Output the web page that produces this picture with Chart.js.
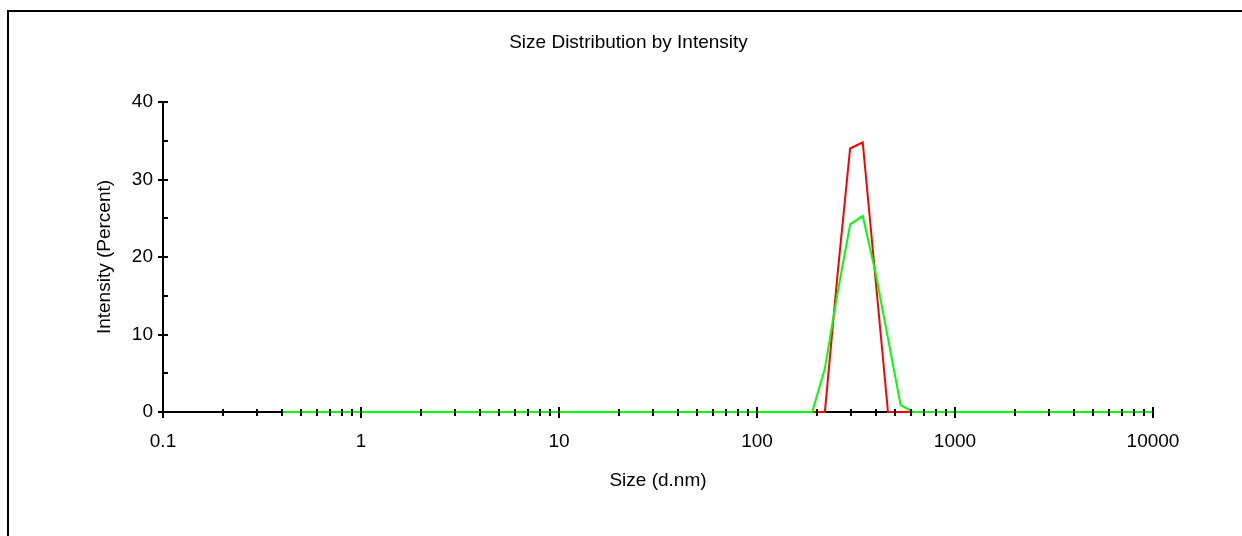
<!DOCTYPE html>
<html>
<head>
<meta charset="utf-8">
<script src="https://cdn.jsdelivr.net/npm/chart.js@4"></script>
<style>
  html, body { margin: 0; padding: 0; background: #ffffff; }
  #wrap { position: relative; width: 1242px; height: 536px; }
  canvas { position: absolute; left: 0; top: 0; }
</style>
</head>
<body>
<div id="wrap"><canvas id="c" width="1242" height="536"></canvas></div>
<script>
// ---- data ----
const chartTitle = 'Size Distribution by Intensity';
const xTitle = 'Size (d.nm)';
const yTitle = 'Intensity (Percent)';

const sizes = [0.4000, 0.4632, 0.5365, 0.6213, 0.7195, 0.8332, 0.9649, 1.117, 1.294, 1.499,
  1.736, 2.010, 2.328, 2.696, 3.122, 3.615, 4.187, 4.849, 5.615, 6.503,
  7.531, 8.721, 10.10, 11.70, 13.54, 15.69, 18.17, 21.04, 24.36, 28.21,
  32.67, 37.84, 43.82, 50.75, 58.77, 68.06, 78.82, 91.28, 105.7, 122.4,
  141.8, 164.2, 190.1, 220.2, 255.0, 295.3, 342.0, 396.1, 458.7, 531.2,
  615.1, 712.4, 825.0, 955.4, 1106, 1281, 1484, 1718, 1990, 2305,
  2669, 3091, 3580, 4145, 4801, 5560, 6439, 7456, 8635, 10000];

const redValues = [0,0,0,0,0,0,0,0,0,0,
  0,0,0,0,0,0,0,0,0,0,
  0,0,0,0,0,0,0,0,0,0,
  0,0,0,0,0,0,0,0,0,0,
  0,0,0,0,17.7,34.0,34.8,17.4,0,0,
  0,0,0,0,0,0,0,0,0,0,
  0,0,0,0,0,0,0,0,0,0];

const greenValues = [0,0,0,0,0,0,0,0,0,0,
  0,0,0,0,0,0,0,0,0,0,
  0,0,0,0,0,0,0,0,0,0,
  0,0,0,0,0,0,0,0,0,0,
  0,0,0,5.6,15.3,24.2,25.3,18.1,9.5,0.9,
  0,0,0,0,0,0,0,0,0,0,
  0,0,0,0,0,0,0,0,0,0];

const xMajorTicks = [0.1, 1, 10, 100, 1000, 10000];
const xMinorMultipliers = [2, 3, 4, 5, 6, 7, 8, 9];
const yTicks = [0, 5, 10, 15, 20, 25, 30, 35, 40];
const yLabelled = [0, 10, 20, 30, 40];

// ---- helpers ----
const FONT = "'Liberation Sans', Arial, sans-serif";
function toXY(xs, ys) { return xs.map((x, i) => ({ x: x, y: ys[i] })); }
function xTickList() {
  const out = [];
  xMajorTicks.forEach((m, i) => {
    out.push({ value: m, major: true });
    if (i < xMajorTicks.length - 1) {
      xMinorMultipliers.forEach(k => out.push({ value: +(m * k).toPrecision(6), major: false }));
    }
  });
  return out;
}

const framePlugin = {
  id: 'frame',
  beforeDraw(chart) {
    const ctx = chart.ctx;
    ctx.save();
    ctx.fillStyle = '#ffffff';
    ctx.fillRect(0, 0, chart.width, chart.height);
    ctx.fillStyle = '#000000';
    ctx.fillRect(7, 10, 2, chart.height - 10);
    ctx.fillRect(7, 10, chart.width - 7, 2);
    // chart title
    ctx.font = '19px ' + FONT;
    ctx.textAlign = 'center';
    ctx.textBaseline = 'alphabetic';
    ctx.fillText(chartTitle, 628.5, 48);
    ctx.restore();
  }
};

const tickPlugin = {
  id: 'crossTicks',
  afterDatasetsDraw(chart) {
    const ctx = chart.ctx;
    const xs = chart.scales.x, ys = chart.scales.y;
    const y0 = ys.getPixelForValue(0);
    const x0 = xs.getPixelForValue(xMajorTicks[0]);
    ctx.save();
    ctx.strokeStyle = '#000000';
    ctx.lineWidth = 2;
    ctx.beginPath();
    xs.ticks.forEach(t => {
      const px = Math.round(xs.getPixelForValue(t.value));
      if (t.major) { ctx.moveTo(px, y0 - 5); ctx.lineTo(px, y0 + 6); }
      else { ctx.moveTo(px, y0 - 3); ctx.lineTo(px, y0 + 4); }
    });
    ys.ticks.forEach(t => {
      const py = Math.round(ys.getPixelForValue(t.value));
      if (yLabelled.includes(t.value)) { ctx.moveTo(x0 - 5, py); ctx.lineTo(x0 + 5, py); }
      else { ctx.moveTo(x0, py); ctx.lineTo(x0 + 5, py); }
    });
    ctx.stroke();
    ctx.restore();
  }
};

new Chart(document.getElementById('c'), {
  type: 'line',
  data: {
    datasets: [
      { label: 'Record 2', data: toXY(sizes, greenValues), borderColor: '#00ff00', borderWidth: 2,
        pointRadius: 0, tension: 0, fill: false, clip: false },
      { label: 'Record 1', data: toXY(sizes, redValues), borderColor: '#ff0000', borderWidth: 2,
        pointRadius: 0, tension: 0, fill: false, clip: false }
    ]
  },
  options: {
    responsive: false,
    animation: false,
    devicePixelRatio: 1,
    layout: { padding: { left: 10, right: 89, top: 102, bottom: 0 } },
    plugins: {
      legend: { display: false },
      title: { display: false },
      tooltip: { enabled: false }
    },
    scales: {
      x: {
        type: 'logarithmic',
        min: 0.1,
        max: 10000,
        afterBuildTicks(scale) { scale.ticks = xTickList(); },
        afterFit(scale) { scale.height = 124; },
        grid: { display: false, drawTicks: false },
        border: { display: true, color: '#000000', width: 2 },
        ticks: {
          autoSkip: false,
          maxRotation: 0,
          padding: 18,
          color: '#000000',
          font: { family: FONT, size: 19 },
          callback(value) {
            if (!xMajorTicks.some(m => Math.abs(m - value) < 1e-9 * Math.max(1, m))) return '';
            return value < 1 ? String(value) : String(Math.round(value));
          }
        },
        title: {
          display: true, text: xTitle, color: '#000000',
          font: { family: FONT, size: 19 },
          padding: { top: 0, bottom: 44 }
        }
      },
      y: {
        type: 'linear',
        min: 0,
        max: 40,
        afterBuildTicks(scale) { scale.ticks = yTicks.map(v => ({ value: v })); },
        afterFit(scale) { scale.width = 153; },
        grid: { display: false, drawTicks: false },
        border: { display: true, color: '#000000', width: 2 },
        ticks: {
          autoSkip: false,
          padding: 10,
          color: '#000000',
          font: { family: FONT, size: 19 },
          callback(value) { return yLabelled.includes(value) ? String(value) : ''; }
        },
        title: {
          display: true, text: yTitle, color: '#000000',
          font: { family: FONT, size: 19 },
          padding: { top: 83.6, bottom: 0 }
        }
      }
    }
  },
  plugins: [framePlugin, tickPlugin]
});
</script>
</body>
</html>
